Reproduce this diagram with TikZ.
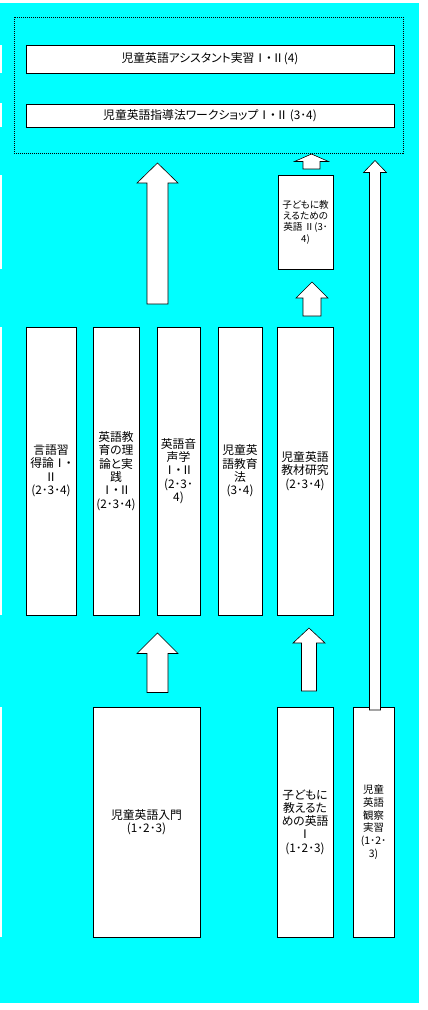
\documentclass[tikz,border=0pt]{standalone}
\usepackage{fontspec}
\setmainfont{Noto Sans CJK JP}[RawFeature=+palt]
\usepackage{tikz}
\usetikzlibrary{positioning}
\definecolor{BackColor}{RGB}{0,255,255}
\tikzset{
  course/.style={draw, fill=white, line width=1pt, inner sep=0pt, align=center,
    font=\fontsize{11.8}{13.3}\selectfont},
  smallcourse/.style={course, font=\fontsize{9.6}{11.3}\selectfont},
  blockarrow/.style={draw, fill=white, line width=0.6pt, line join=miter},
}
% block arrow pointing up: x, tip y, head base y, bottom y, head half width, shaft half width
\newcommand{\blockup}[6]{%
  \draw[blockarrow] (#1,#2) -- (#1+#5,#3) -- (#1+#6,#3) -- (#1+#6,#4)
  -- (#1-#6,#4) -- (#1-#6,#3) -- (#1-#5,#3) -- cycle;}

\begin{document}
\begin{tikzpicture}[x=1pt, y=-1pt]
  \useasboundingbox (0,0) rectangle (428,1010);
  % Background
  \fill[BackColor] (0,3) rectangle (419,1003);
  \foreach \ya/\yb in {45/73, 103/127, 175/269, 327/615, 707/937}
    {\fill[white] (0,\ya) rectangle (1.5,\yb);}
  % Upper group
  \node[draw, dash pattern=on 1pt off 1pt, line width=0.8pt,
    minimum width=389pt, minimum height=136pt] (group) at (208.5,85) {};
  \node[course, minimum width=368pt, minimum height=28pt] (asst) at (210,59)
    {児童英語アシスタント実習Ⅰ・Ⅱ(4)};
  \node[course, minimum width=368pt, minimum height=23pt] (workshop) at (210,115.5)
    {児童英語指導法ワークショップⅠ・Ⅱ\,(3･4)};
  % Second level
  \node[smallcourse, minimum width=55pt, minimum height=94pt] (kids2) at (305.5,222)
    {子どもに教\\えるための\\英語 Ⅱ(3･\\4)};
  % Middle row
  \node[course, minimum width=50pt, minimum height=288pt] (acq) at (51,471)
    {言語習\\得論Ⅰ・\\Ⅱ\\(2･3･4)};
  \node[course, minimum width=46pt, minimum height=288pt] (theory) at (116,471)
    {英語教\\育の理\\論と実\\践\\Ⅰ・Ⅱ\\(2･3･4)};
  \node[course, minimum width=43pt, minimum height=288pt] (phon) at (178.5,471)
    {英語音\\声学\\Ⅰ・Ⅱ\\(2･3･\\4)};
  \node[course, minimum width=44pt, minimum height=288pt] (method) at (240,471)
    {児童英\\語教育\\法\\(3･4)};
  \node[course, minimum width=56pt, minimum height=288pt] (material) at (305,471)
    {児童英語\\教材研究\\(2･3･4)};
  % Bottom row
  \node[course, minimum width=107pt, minimum height=230pt] (intro) at (146.5,822)
    {児童英語入門\\(1･2･3)};
  \node[course, minimum width=56pt, minimum height=230pt] (kids1) at (305,822)
    {子どもに\\教えるた\\めの英語\\Ⅰ\\(1･2･3)};
  \node[course, minimum width=41pt, minimum height=230pt,
    font=\fontsize{10.4}{12.7}\selectfont] (observe) at (373.5,822)
    {児童\\英語\\観察\\実習\\(1･2･\\3)};
  % Arrows
  \blockup{157.5}{163}{183}{304}{20.5}{10.5}
  \blockup{311.5}{154}{161.5}{169}{17}{8.5}
  \blockup{312}{282}{298}{316}{16}{9}
  \blockup{157.5}{633}{653.5}{692.5}{20.5}{10.5}
  \blockup{309}{628}{643}{691}{16}{7.5}
  \blockup{375}{160.5}{172.5}{710}{11.5}{5.5}
\end{tikzpicture}
\end{document}
